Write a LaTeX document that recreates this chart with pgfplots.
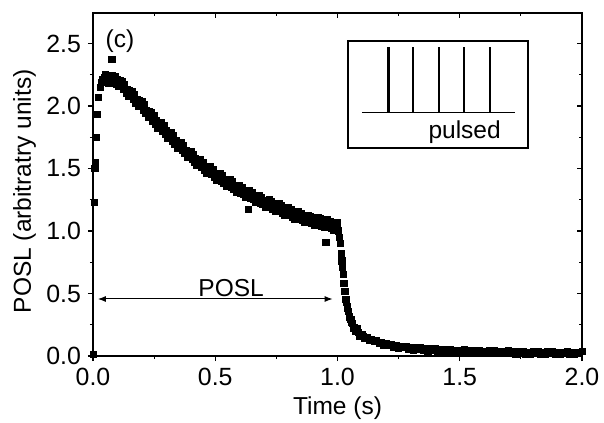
\documentclass[border=0pt]{standalone}
\usepackage{fontspec}
\setmainfont{Liberation Sans}
\usepackage{pgfplots}
\pgfplotsset{compat=1.18}
\usetikzlibrary{arrows.meta}

\begin{document}
\begin{tikzpicture}
\useasboundingbox (-46.5bp,-33.5bp) rectangle (255.5bp,178bp);
\begin{axis}[
  scale only axis, width=244.5bp, height=171.5bp,
  xmin=0, xmax=2, ymin=0, ymax=2.744,
  xtick={0,0.5,1,1.5,2}, ytick={0,0.5,1,1.5,2,2.5},
  minor tick num=1,
  xtick pos=left, ytick pos=left,
  tick align=outside,
  major tick length=2.5bp, minor tick length=1.5bp,
  axis line style={line width=0.8bp},
  every tick/.style={black, line width=0.6bp},
  tick label style={font=\fontsize{12.5}{14}\selectfont},
  label style={font=\fontsize{12.3}{14}\selectfont},
  /pgf/number format/assume math mode=true,
  /pgf/number format/fixed, /pgf/number format/fixed zerofill, /pgf/number format/precision=1,
  xlabel={Time (s)}, ylabel={POSL (arbitratry units)},
  xlabel style={at={(axis description cs:0.5,-0.152)}, anchor=center},
  ylabel style={at={(axis description cs:-0.14,0.48)}, anchor=center},
]
\addplot[only marks, mark=square*, mark size=1.55bp, black] coordinates {
(0.002,0.01) (0.005,1.23) (0.008,1.50) (0.010,1.55) (0.013,1.75) (0.017,1.93) (0.022,2.07) (0.030,2.15) (0.035,2.19) (0.040,2.21) (0.045,2.23) (0.077,2.37)
(0.050,2.250) (0.055,2.193) (0.060,2.226) (0.065,2.179) (0.070,2.232) (0.075,2.200) (0.080,2.243) (0.085,2.186) (0.090,2.234) (0.095,2.177)
(0.100,2.210) (0.105,2.155) (0.110,2.200) (0.115,2.160) (0.120,2.195) (0.125,2.130) (0.130,2.170) (0.135,2.105) (0.140,2.130) (0.145,2.075)
(0.150,2.120) (0.155,2.080) (0.160,2.115) (0.165,2.050) (0.170,2.090) (0.175,2.025) (0.180,2.050) (0.185,1.995) (0.190,2.040) (0.195,2.000)
(0.200,2.035) (0.205,1.969) (0.210,2.008) (0.215,1.942) (0.220,1.966) (0.225,1.910) (0.230,1.954) (0.235,1.913) (0.240,1.947) (0.245,1.881)
(0.250,1.920) (0.255,1.855) (0.260,1.880) (0.265,1.825) (0.270,1.870) (0.275,1.830) (0.280,1.865) (0.285,1.800) (0.290,1.840) (0.295,1.775)
(0.300,1.800) (0.305,1.745) (0.310,1.790) (0.315,1.750) (0.320,1.785) (0.325,1.720) (0.330,1.760) (0.335,1.695) (0.340,1.720) (0.345,1.665)
(0.350,1.710) (0.355,1.671) (0.360,1.707) (0.365,1.643) (0.370,1.684) (0.375,1.620) (0.380,1.646) (0.385,1.592) (0.390,1.638) (0.395,1.599)
(0.400,1.635) (0.405,1.572) (0.410,1.614) (0.415,1.551) (0.420,1.578) (0.425,1.525) (0.430,1.572) (0.435,1.534) (0.440,1.571) (0.445,1.508)
(0.450,1.550) (0.455,1.488) (0.460,1.516) (0.465,1.464) (0.470,1.512) (0.475,1.475) (0.480,1.513) (0.485,1.451) (0.490,1.494) (0.495,1.432)
(0.500,1.460) (0.505,1.409) (0.510,1.458) (0.515,1.422) (0.520,1.461) (0.525,1.400) (0.530,1.444) (0.535,1.383) (0.540,1.412) (0.545,1.361)
(0.550,1.410) (0.555,1.374) (0.560,1.413) (0.565,1.352) (0.570,1.396) (0.575,1.335) (0.580,1.364) (0.585,1.313) (0.590,1.362) (0.595,1.326)
(0.600,1.365) (0.605,1.305) (0.610,1.350) (0.615,1.290) (0.620,1.320) (0.625,1.270) (0.630,1.320) (0.635,1.285) (0.640,1.325) (0.645,1.265)
(0.650,1.310) (0.655,1.250) (0.660,1.280) (0.665,1.230) (0.670,1.280) (0.675,1.245) (0.680,1.285) (0.685,1.225) (0.690,1.270) (0.695,1.210)
(0.700,1.240) (0.705,1.191) (0.710,1.242) (0.715,1.208) (0.720,1.249) (0.725,1.190) (0.730,1.236) (0.735,1.177) (0.740,1.208) (0.745,1.159)
(0.750,1.210) (0.755,1.176) (0.760,1.217) (0.765,1.158) (0.770,1.204) (0.775,1.145) (0.780,1.176) (0.785,1.127) (0.790,1.178) (0.795,1.144)
(0.800,1.185) (0.805,1.126) (0.810,1.172) (0.815,1.113) (0.820,1.144) (0.825,1.095) (0.830,1.146) (0.835,1.112) (0.840,1.153) (0.845,1.094)
(0.850,1.140) (0.855,1.082) (0.860,1.114) (0.865,1.066) (0.870,1.118) (0.875,1.085) (0.880,1.127) (0.885,1.069) (0.890,1.116) (0.895,1.058)
(0.900,1.090) (0.905,1.043) (0.910,1.096) (0.915,1.064) (0.920,1.107) (0.925,1.050) (0.930,1.098) (0.935,1.041) (0.940,1.074) (0.945,1.027)
(0.950,1.080) (0.955,1.047) (0.960,1.089) (0.965,1.031) (0.970,1.078) (0.975,1.020) (0.980,1.052) (0.985,1.004) (0.990,1.056) (0.995,1.023)
(1.000,1.065) (0.634,1.17) (0.950,0.91) (0.955,0.91)
(1.005,1.00) (1.008,0.95) (1.012,0.90) (1.015,0.82) (1.018,0.76) (1.020,0.71) (1.023,0.65) (1.026,0.58) (1.030,0.52) (1.034,0.45)
(1.038,0.43) (1.040,0.40) (1.042,0.38) (1.045,0.36) (1.048,0.31) (1.050,0.32) (1.055,0.29) (1.058,0.27) (1.060,0.26) (1.065,0.22)
(1.068,0.23) (1.072,0.20) (1.075,0.21) (1.080,0.22) (1.085,0.19) (1.090,0.16) (1.095,0.17) (1.105,0.155)
(1.10,0.172) (1.11,0.142) (1.12,0.149) (1.13,0.124) (1.14,0.136) (1.15,0.116) (1.16,0.126) (1.17,0.098) (1.18,0.107) (1.19,0.084)
(1.20,0.098) (1.21,0.083) (1.22,0.096) (1.23,0.071) (1.24,0.083) (1.25,0.063) (1.26,0.080) (1.27,0.066) (1.28,0.079) (1.29,0.055)
(1.30,0.067) (1.31,0.049) (1.32,0.067) (1.33,0.054) (1.34,0.068) (1.35,0.045) (1.36,0.059) (1.37,0.040) (1.38,0.059) (1.39,0.045)
(1.40,0.060) (1.41,0.037) (1.42,0.051) (1.43,0.034) (1.44,0.053) (1.45,0.040) (1.46,0.055) (1.47,0.032) (1.48,0.047) (1.49,0.029)
(1.50,0.048) (1.51,0.035) (1.52,0.051) (1.53,0.028) (1.54,0.043) (1.55,0.025) (1.56,0.044) (1.57,0.032) (1.58,0.047) (1.59,0.025)
(1.60,0.039) (1.61,0.022) (1.62,0.041) (1.63,0.029) (1.64,0.044) (1.65,0.022) (1.66,0.036) (1.67,0.019) (1.68,0.039) (1.69,0.026)
(1.70,0.042) (1.71,0.020) (1.72,0.034) (1.73,0.017) (1.74,0.037) (1.75,0.024) (1.76,0.040) (1.77,0.017) (1.78,0.032) (1.79,0.014)
(1.80,0.034) (1.81,0.022) (1.82,0.038) (1.83,0.015) (1.84,0.030) (1.85,0.013) (1.86,0.033) (1.87,0.020) (1.88,0.036) (1.89,0.014)
(1.90,0.029) (1.91,0.012) (1.92,0.031) (1.93,0.019) (1.94,0.035) (1.95,0.013) (1.96,0.028) (1.97,0.010) (1.98,0.030) (1.99,0.018)
(2.00,0.034)
};
% inset
\draw[line width=0.8bp] (axis cs:1.043,1.664) rectangle (axis cs:1.779,2.52);
\draw[line width=0.5bp] (axis cs:1.10,1.944) -- (axis cs:1.726,1.944);
\draw[line width=1.4bp] (axis cs:1.207,1.944) -- (axis cs:1.207,2.47);
\draw[line width=1.4bp] (axis cs:1.309,1.944) -- (axis cs:1.309,2.47);
\draw[line width=1.4bp] (axis cs:1.415,1.944) -- (axis cs:1.415,2.47);
\draw[line width=1.4bp] (axis cs:1.517,1.944) -- (axis cs:1.517,2.47);
\draw[line width=1.4bp] (axis cs:1.624,1.944) -- (axis cs:1.624,2.47);
\node[font=\fontsize{12.3}{14}\selectfont] at (axis cs:1.52,1.79) {pulsed};
% annotations
\draw[line width=0.5bp, {Latex[length=4bp,width=3bp]}-{Latex[length=4bp,width=3bp]}] (axis cs:0.02,0.456) -- (axis cs:0.98,0.456);
\node[font=\fontsize{12.3}{14}\selectfont] at (axis cs:0.565,0.544) {POSL};
\node[font=\fontsize{12.3}{14}\selectfont] at (axis cs:0.11,2.52) {(c)};
\end{axis}
\begin{axis}[
  scale only axis, width=244.5bp, height=171.5bp,
  xmin=0, xmax=2, ymin=0, ymax=2.744,
  xtick={0,0.5,1,1.5,2}, ytick={0,0.5,1,1.5,2,2.5},
  minor tick num=1,
  xtick pos=right, ytick pos=right,
  tick align=inside,
  xticklabels={}, yticklabels={},
  major tick length=2.5bp, minor tick length=1.5bp,
  axis line style={line width=0.8bp},
  every tick/.style={black, line width=0.6bp},
]
\end{axis}
\end{tikzpicture}
\end{document}
